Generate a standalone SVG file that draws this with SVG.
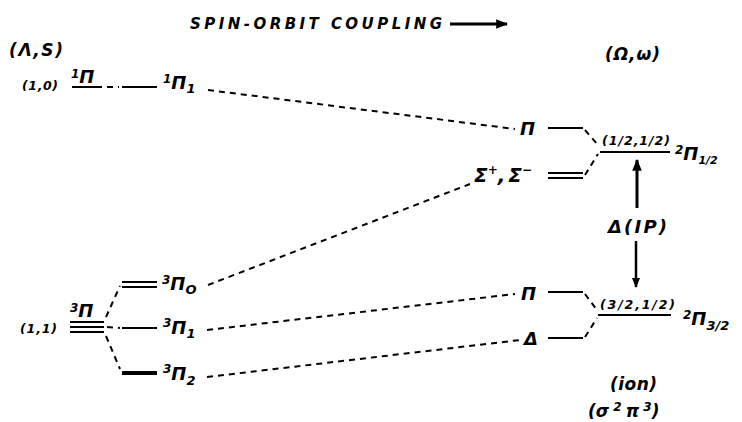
<svg xmlns="http://www.w3.org/2000/svg" width="742" height="422" viewBox="0 0 742 422">
<defs>
<style>
text{font-family:"DejaVu Sans","Liberation Sans",sans-serif;font-style:italic;font-weight:bold;fill:#000}
.t{font-size:15px}
.m{font-size:18px}
.h{font-size:17px}
.s{font-size:12.5px}
.sup{font-size:12px}
.sub{font-size:13px}
.lv{stroke:#000;stroke-width:2;fill:none}
.th{stroke:#000;stroke-width:4;fill:none}
.d{stroke:#000;stroke-width:2;stroke-dasharray:6,5;fill:none}
</style>
<marker id="ah" viewBox="0 0 10 10" refX="9" refY="5" markerWidth="4" markerHeight="4" orient="auto-start-reverse" markerUnits="strokeWidth">
<path d="M0,1 L10,5 L0,9 z" fill="#000"/>
</marker>
</defs>
<rect width="742" height="422" fill="#fff"/>

<g id="title">
<text class="t" x="190" y="29" textLength="252" lengthAdjust="spacing">SPIN-ORBIT COUPLING</text>
<line x1="450" y1="24" x2="507" y2="24" stroke="#000" stroke-width="3" marker-end="url(#ah)"/>
</g>

<g id="header-left"><text class="h" x="9" y="56" textLength="54">(Λ,S)</text></g>
<g id="header-right"><text class="h" x="605" y="60" textLength="55">(Ω,ω)</text></g>

<g id="singlet">
<text class="s" x="22" y="90" textLength="36">(1,0)</text>
<text class="m" x="71" y="83"><tspan class="sup" dy="-5">1</tspan><tspan dy="5">Π</tspan></text>
<line class="lv" x1="72" y1="87" x2="102" y2="87"/>
</g>

<g id="singlet-1">
<line class="lv" x1="122" y1="87" x2="157" y2="87"/>
<text class="m" x="163" y="89"><tspan class="sup" dy="-6">1</tspan><tspan dy="6">Π</tspan><tspan class="sub" dy="4">1</tspan></text>
</g>

<g id="triplet">
<text class="s" x="20" y="333" textLength="37">(1,1)</text>
<text class="m" x="70" y="317"><tspan class="sup" dy="-5">3</tspan><tspan dy="5">Π</tspan></text>
<line class="lv" x1="70" y1="322" x2="104" y2="322"/>
<line class="lv" x1="70" y1="327" x2="104" y2="327"/>
<line class="lv" x1="70" y1="332" x2="104" y2="332"/>
</g>

<g id="triplet-0">
<line class="lv" x1="122" y1="282" x2="157" y2="282"/>
<line class="lv" x1="122" y1="287" x2="157" y2="287"/>
<text class="m" x="162" y="290"><tspan class="sup" dy="-6">3</tspan><tspan dy="6">Π</tspan><tspan class="sub" dy="4">O</tspan></text>
</g>

<g id="triplet-1">
<line class="lv" x1="122" y1="328" x2="157" y2="328"/>
<text class="m" x="163" y="334"><tspan class="sup" dy="-7">3</tspan><tspan dy="7">Π</tspan><tspan class="sub" dy="4">1</tspan></text>
</g>

<g id="triplet-2">
<line class="th" x1="122" y1="373" x2="157" y2="373"/>
<text class="m" x="163" y="380"><tspan class="sup" dy="-7">3</tspan><tspan dy="7">Π</tspan><tspan class="sub" dy="5">2</tspan></text>
</g>

<g id="omega-pi-upper">
<text class="m" x="520" y="135">Π</text>
<line class="lv" x1="548" y1="128" x2="583" y2="128"/>
</g>

<g id="omega-sigma">
<text x="474" y="182" font-size="20">Σ<tspan class="sup" dy="-8">+</tspan><tspan dy="8">,</tspan><tspan dx="3">Σ</tspan><tspan class="sup" dy="-8">−</tspan></text>
<line class="lv" x1="548" y1="173" x2="583" y2="173"/>
<line class="lv" x1="548" y1="178" x2="583" y2="178"/>
</g>

<g id="ion-upper">
<text class="s" x="602" y="145" textLength="68">(1/2,1/2)</text>
<line class="lv" x1="600" y1="152" x2="670" y2="152"/>
<text class="m" x="675" y="160"><tspan class="sup" dy="-6">2</tspan><tspan dy="6">Π</tspan><tspan font-size="11" dy="4">1/2</tspan></text>
</g>

<g id="delta-ip">
<text class="m" x="608" y="233" textLength="59">Δ(IP)</text>
<line x1="637" y1="208" x2="637" y2="160" stroke="#000" stroke-width="3" marker-end="url(#ah)"/>
<line x1="636" y1="241" x2="636" y2="287" stroke="#000" stroke-width="2.5" marker-end="url(#ah)"/>
</g>

<g id="omega-pi-lower">
<text class="m" x="521" y="300">Π</text>
<line class="lv" x1="548" y1="292" x2="583" y2="292"/>
</g>

<g id="omega-delta">
<text class="m" x="524" y="345">Δ</text>
<line class="lv" x1="548" y1="338" x2="583" y2="338"/>
</g>

<g id="ion-lower">
<text class="s" x="600" y="309" textLength="75">(3/2,1/2)</text>
<line class="lv" x1="598" y1="315" x2="671" y2="315"/>
<text class="m" x="683" y="325"><tspan class="sup" dy="-6">2</tspan><tspan dy="6">Π</tspan><tspan class="sub" dy="5">3/2</tspan></text>
</g>

<g id="ion-label">
<text class="h" x="610" y="390" textLength="47">(ion)</text>
<text class="h" x="588" y="417">(σ<tspan class="sup" dy="-6"> 2 </tspan><tspan dy="6">π</tspan><tspan class="sup" dy="-6"> 3</tspan><tspan dy="6">)</tspan></text>
</g>

<g id="connectors">
<line class="d" x1="107" y1="87" x2="119" y2="87"/>
<line class="d" x1="208" y1="90" x2="515" y2="129"/>
<line class="d" x1="585" y1="130" x2="598" y2="145"/>
<line class="d" x1="585" y1="175" x2="598" y2="154"/>
<line class="d" x1="106" y1="317" x2="120" y2="286"/>
<line class="d" x1="107" y1="327" x2="120" y2="328"/>
<line class="d" x1="106" y1="336" x2="120" y2="369"/>
<line class="d" x1="208" y1="285" x2="470" y2="184"/>
<line class="d" x1="207" y1="330" x2="515" y2="294"/>
<line class="d" x1="207" y1="377" x2="520" y2="340"/>
<line class="d" x1="585" y1="294" x2="597" y2="310"/>
<line class="d" x1="585" y1="337" x2="597" y2="318"/>
</g>
</svg>
